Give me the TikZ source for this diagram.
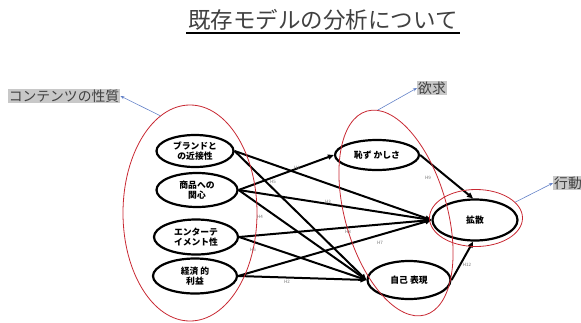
\documentclass[tikz,border=0pt]{standalone}
\usepackage{fontspec}
\setmainfont{Noto Sans CJK JP}
\usetikzlibrary{shapes.geometric,arrows.meta}
\definecolor{grpred}{RGB}{200,40,50}
\definecolor{catgray}{RGB}{200,200,200}
\definecolor{txtgray}{RGB}{64,64,64}
\definecolor{ptrblue}{RGB}{100,130,200}
\begin{document}
\begin{tikzpicture}[x=1pt,y=-1pt,
  fact/.style={ellipse,draw=black,fill=white,line width=2.2pt,inner sep=0pt,align=center,font=\fontsize{8.8}{10.5}\selectfont\bfseries},
  grp/.style={ellipse,draw=grpred,line width=0.8pt,inner sep=0pt},
  cat/.style={fill=catgray,text=txtgray,inner sep=1pt,font=\fontsize{13.8}{14}\selectfont},
  link/.style={line width=2pt,-{Triangle[length=6pt,width=5pt]}},
  ptr/.style={draw=ptrblue,line width=0.6pt,-{Stealth[length=4pt,width=3pt]}},
  hl/.style={font=\fontsize{4.5}{4.5}\selectfont,text=black!55,inner sep=0pt}
]
\useasboundingbox (0,0) rectangle (581,322);

% title
\node[text=txtgray,font=\fontsize{22.5}{23}\selectfont,inner sep=0pt] (title) at (323,20) {既存モデルの分析について};
\coordinate (ul1) at (186,33);
\coordinate (ul2) at (460,33);
\draw[line width=1.3pt] (ul1) -- (ul2);

% factor nodes
\node[fact,minimum width=77pt,minimum height=32pt] (brand) at (195,151) {ブランドと\\の近接性};
\node[fact,minimum width=81pt,minimum height=34pt] (goods) at (197,190) {商品への\\関心};
\node[fact,minimum width=84pt,minimum height=35pt] (ent) at (196,237) {エンターテ\\イメント性};
\node[fact,minimum width=84pt,minimum height=35pt] (eco) at (195,276) {経済 的\\利益};
\node[fact,minimum width=84pt,minimum height=30pt] (haji) at (377,155) {恥ず かしさ};
\node[fact,minimum width=83pt,minimum height=38pt] (jiko) at (409,280) {自己 表現};
\node[fact,minimum width=85pt,minimum height=41pt] (kaku) at (475,220) {拡散};

% connectors
\draw[link] (brand.east) -- (kaku.west);
\draw[link] (brand.east) -- (jiko.west);
\draw[link] (goods.east) -- (haji.west);
\draw[link] (goods.east) -- (kaku.west);
\draw[link] (goods.east) -- (jiko.west);
\draw[link] (ent.east) -- (kaku.west);
\draw[link] (ent.east) -- (jiko.west);
\draw[link] (eco.east) -- (kaku.west);
\draw[link] (eco.east) -- (jiko.west);
\draw[link] (haji.east) -- (kaku.95);
\draw[link] (jiko.east) -- (kaku.265);

% hypothesis labels
\node[hl] (h1) at (297,168) {H1};
\node[hl] (h5) at (273,182) {H5};
\node[hl] (h3) at (328,202) {H3};
\node[hl] (h4) at (260,217) {H4};
\node[hl] (h6) at (253,250) {H6};
\node[hl] (h8) at (348,232) {H8};
\node[hl] (h7) at (380,243) {H7};
\node[hl] (h2) at (287,282) {H2};
\node[hl] (h9) at (428,178) {H9};
\node[hl] (h12) at (467,265) {H12};

% red group ellipses
\node[grp,minimum width=134pt,minimum height=216pt] (redL) at (190,213) {};
\node[grp,minimum width=102pt,minimum height=212pt,rotate=16] (redM) at (396,213) {};
\node[grp,minimum width=93pt,minimum height=57pt] (redR) at (476,218) {};

% category labels
\node[cat] (catA) at (64,96) {コンテンツの性質};
\node[cat] (catB) at (432,88) {欲求};
\node[cat,anchor=west] (catC) at (553,183) {行動};

\draw[ptr] (redL.107) -- (catA.east);
\draw[ptr] (redM.84) -- (catB.west);
\draw[ptr] (redR.22) -- (catC.west);
\end{tikzpicture}
\end{document}
